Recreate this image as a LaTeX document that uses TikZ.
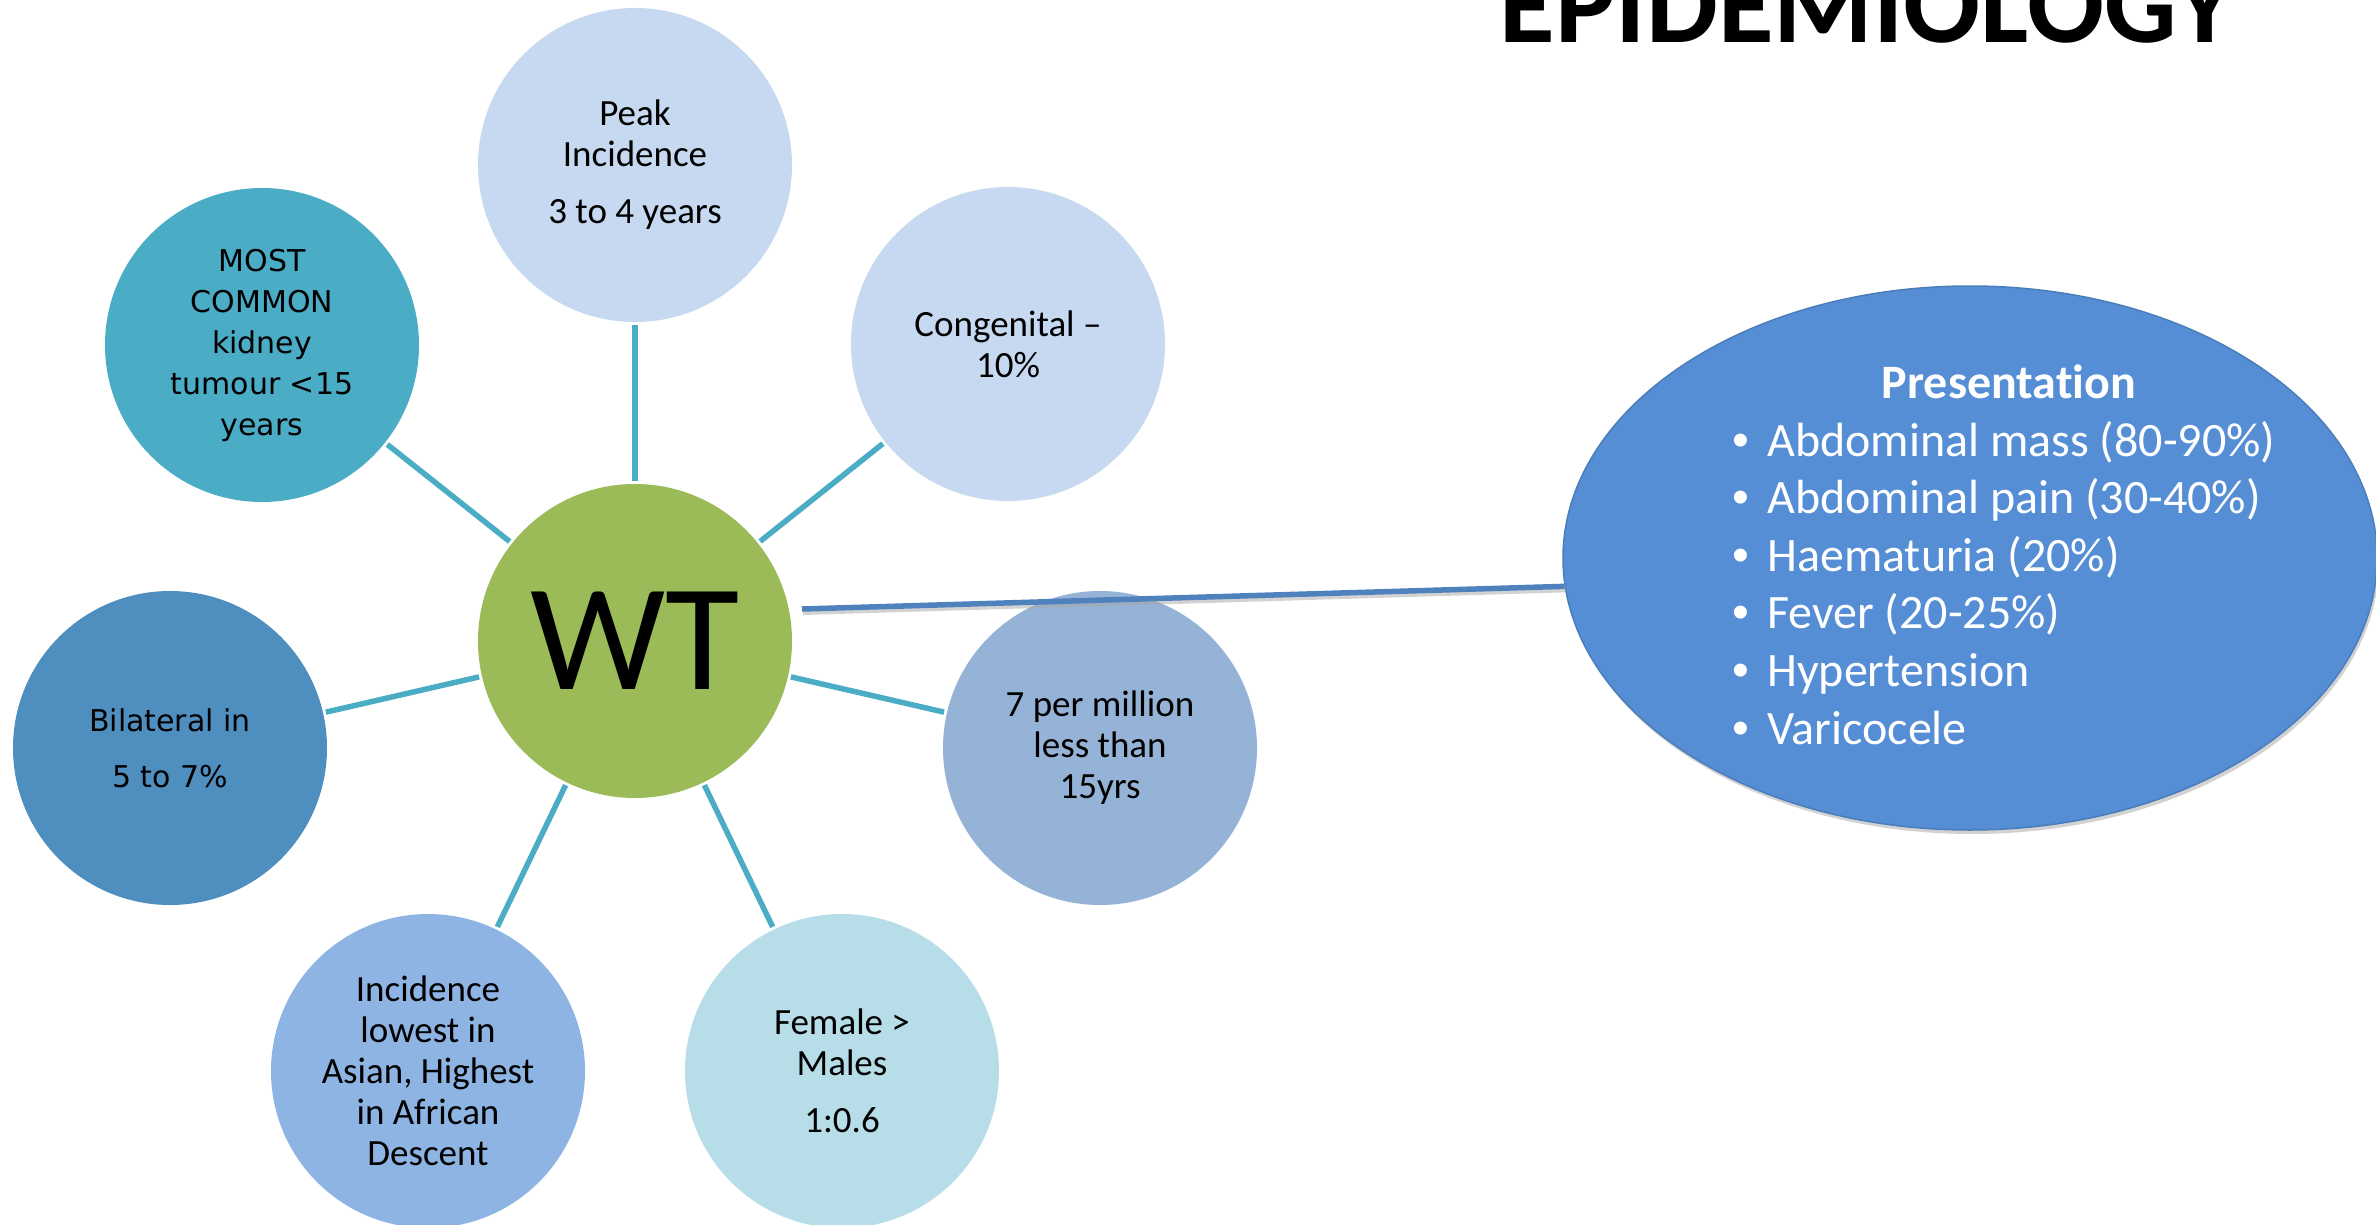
\documentclass[tikz,border=0pt]{standalone}
\usepackage{fontspec}
\setmainfont[Ligatures={TeX,NoCommon}]{Carlito}
\newfontfamily\vfont{DejaVu Sans}
\newfontfamily\bfontA{Liberation Sans}
\usetikzlibrary{shapes.geometric,shadows}
\definecolor{cPeak}{RGB}{198,217,240}
\definecolor{cMost}{RGB}{75,172,198}
\definecolor{cBil}{RGB}{79,143,192}
\definecolor{cPer}{RGB}{149,179,215}
\definecolor{cInc}{RGB}{142,180,227}
\definecolor{cFem}{RGB}{183,221,232}
\definecolor{cWT}{RGB}{155,187,89}
\definecolor{cEll}{RGB}{85,142,213}
\definecolor{cEllB}{RGB}{74,126,187}
\definecolor{cLink}{RGB}{75,172,198}
\definecolor{cBlue}{RGB}{79,129,189}
\begin{document}
\begin{tikzpicture}[x=1pt,y=-1pt,
  bub/.style={circle,minimum size=314pt,inner sep=0pt,outer sep=3pt,align=center,
    font=\fontsize{37}{41}\selectfont,text=black},
  vbub/.style={bub,font=\vfont\fontsize{30}{41}\selectfont},
  link/.style={draw=cLink,line width=5.5pt},
  bullet/.style={anchor=base west,text=white,font=\fontsize{48}{58}\selectfont,inner sep=0pt}]
\useasboundingbox[fill=white] (0,0) rectangle (2376,1225);

% title
\node[anchor=base,inner sep=0pt,font=\bfseries\fontsize{114}{120}\selectfont] (title) at (1867,43) {EPIDEMIOLOGY};

% satellites
\node[bub,fill=cPeak] (peak) at (635,165) {Peak\\Incidence\\[16pt]3 to 4 years};
\node[bub,fill=cPeak] (cong) at (1008,344) {Congenital –\\10\%};
\node[vbub,fill=cMost] (most) at (262,345) {MOST\\COMMON\\kidney\\tumour <15\\years};
\node[vbub,fill=cBil] (bilat) at (170,748) {Bilateral in\\[15pt]5 to 7\%};
\node[bub,fill=cPer] (perm) at (1100,748) {7 per million\\less than\\15yrs};
\node[bub,fill=cInc] (incid) at (428,1071) {Incidence\\lowest in\\Asian, Highest\\in African\\Descent};
\node[bub,fill=cFem] (fem) at (842,1071) {Female >\\Males\\[16pt]1:0.6};

% centre
\node[circle,minimum size=314pt,inner sep=0pt,outer sep=3pt,fill=cWT,
  font=\fontsize{152}{160}\selectfont] (wt) at (635,641) {WT};

% spokes
\foreach \n in {peak,cong,most,bilat,perm,incid,fem}
  \draw[link] (wt) -- (\n);

% presentation ellipse
\coordinate (bs) at (802,609);
\node[ellipse,minimum width=814pt,minimum height=544pt,inner sep=0pt,
  fill=cEll,draw=cEllB,line width=1.5pt,
  drop shadow={opacity=0.35,shadow xshift=2pt,shadow yshift=-4pt}] (ell) at (1970,558) {};
\draw[line width=6pt,draw=black!35,opacity=0.5] ([xshift=1pt,yshift=-3pt]bs) -- ([xshift=1pt,yshift=-3pt]ell.184);
\draw[line width=5.5pt,draw=cBlue] (bs) -- (ell.184);

\node[anchor=base,text=white,inner sep=0pt,font=\bfseries\fontsize{48}{58}\selectfont] (ptitle) at (2009,398) {Presentation};
\foreach \t [count=\i] in {Abdominal mass (80-90\%),Abdominal pain (30-40\%),Haematuria (20\%),Fever (20-25\%),Hypertension,Varicocele}
  \node[bullet] (b\i) at (1767,{456+(\i-1)*57.6}) {\llap{\makebox[0pt][c]{\bfontA •}\hspace{26pt}}\t};
\end{tikzpicture}
\end{document}
